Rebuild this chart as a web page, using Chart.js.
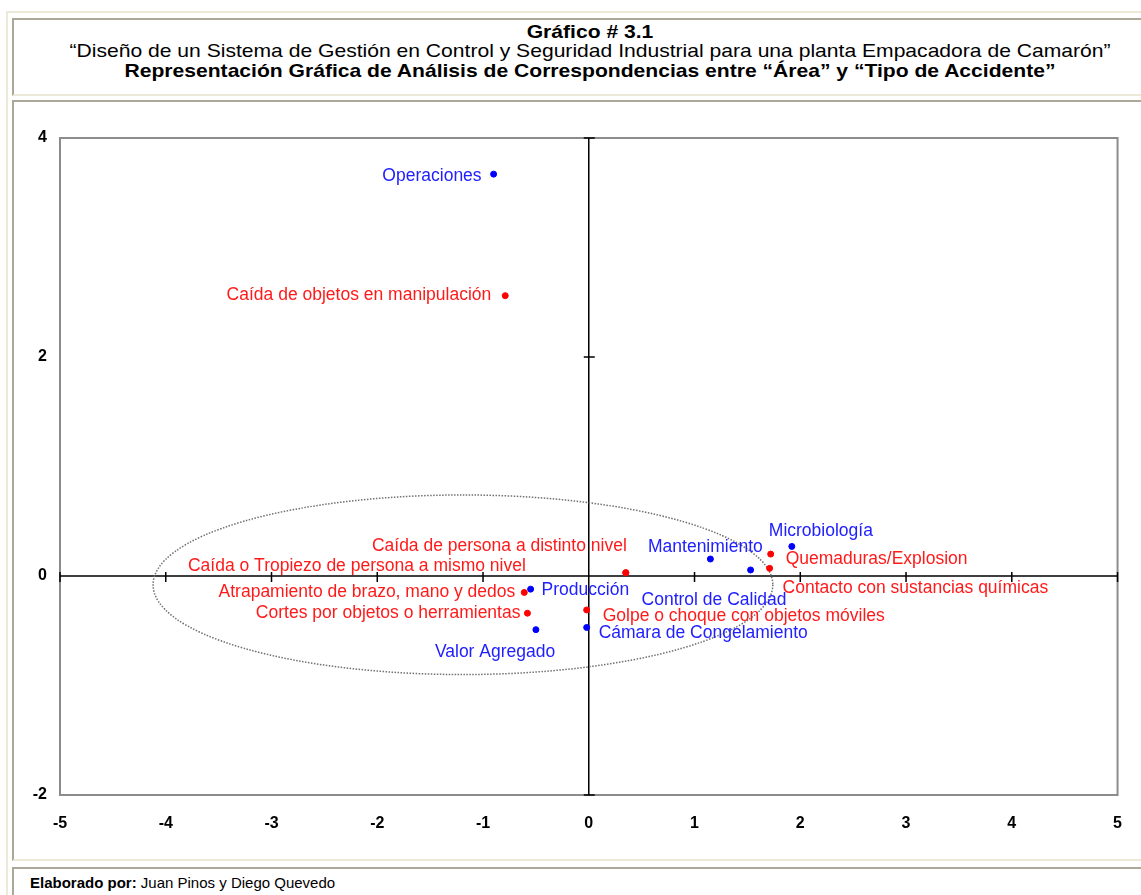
<!DOCTYPE html>
<html>
<head>
<meta charset="utf-8">
<script src="https://cdn.jsdelivr.net/npm/chart.js@4.4.1/dist/chart.umd.min.js"></script>
<style>
  body { margin: 0; background: #fff; width: 1141px; height: 895px; overflow: hidden; position: relative; font-family: "Liberation Sans", Arial, sans-serif; }
  .outer { position: absolute; left: 6px; top: 11px; width: 1200px; height: 1000px; border-left: 2px solid #ece9d8; border-top: 2px solid #ece9d8; }
  .cell { position: absolute; left: 12px; width: 1200px; background: #fff; border-top: 2px solid #aca899; border-left: 2px solid #aca899; border-bottom: 2px solid #ece9d8; box-sizing: border-box; }
  #head { top: 18px; height: 78px; }
  #head div { position: absolute; left: -14px; width: 1180px; text-align: center; color: #000; font-size: 19px; line-height: 20px; white-space: nowrap; transform: scaleX(1.11); transform-origin: 50% 0; }
  #body { top: 100px; height: 761px; }
  #foot { top: 867px; height: 60px; font-size: 15px; }
  #foot span { position: absolute; left: 16px; top: 5px; }
  canvas { position: absolute; left: 0; top: 0; }
</style>
</head>
<body>
<div class="outer"></div>
<div class="cell" id="head">
  <div style="top:2px;font-weight:bold;">Gráfico # 3.1</div>
  <div style="top:21px;">“Diseño de un Sistema de Gestión en Control y Seguridad Industrial para una planta Empacadora de Camarón”</div>
  <div style="top:41px;font-weight:bold;">Representación Gráfica de Análisis de Correspondencias entre “Área” y “Tipo de Accidente”</div>
</div>
<div class="cell" id="body"><canvas id="chart" width="1127" height="757"></canvas></div>
<div class="cell" id="foot"><span><b>Elaborado por:</b> Juan Pinos y Diego Quevedo</span></div>

<script>
// areas (azul)
const areaLabels = ["Operaciones", "Microbiología", "Mantenimiento", "Control de Calidad", "Producción", "Valor Agregado", "Cámara de Congelamiento"];
const areaX = [-0.90, 1.92, 1.15, 1.53, -0.55, -0.50, -0.02];
const areaY = [3.67, 0.27, 0.155, 0.055, -0.12, -0.49, -0.47];

// tipos de accidente (rojo)
const accLabels = ["Caída de objetos en manipulación", "Caída de persona a distinto nivel", "Caída o Tropiezo de persona a mismo nivel",
  "Quemaduras/Explosion", "Contacto con sustancias químicas", "Atrapamiento de brazo, mano y dedos",
  "Cortes por objetos o herramientas", "Golpe o choque con objetos móviles"];
const accX = [-0.79, 0.35, 0.35, 1.72, 1.71, -0.61, -0.58, -0.02];
const accY = [2.56, 0.03, 0.03, 0.20, 0.07, -0.15, -0.34, -0.31];

// ejes
const xTicks = [-5, -4, -3, -2, -1, 0, 1, 2, 3, 4, 5];
const yTicks = [-2, 0, 2, 4];

// elipse (centro, radios) en unidades de datos
const ellipseCenter = [-1.19, -0.08];
const ellipseRadius = [2.93, 0.82];

// posicion de las etiquetas: [alineacion, dx, dy] en pixeles
const areaPlace = [["right", -12, 2], ["left", -23, -15], ["center", -5, -12], ["left", -109, 30],
  ["left", 11, 1], ["left", -101, 23], ["left", 12, 6]];
const accPlace = [["right", -14, -1], ["right", 1, -27], ["right", -100, -7], ["left", 15, 5],
  ["left", 13, 20], ["right", -9, 0], ["right", -7, 0], ["left", 16, 6]];

const BLUE = "#0000ff";
const RED = "#ff0000";

const toPts = (xs, ys) => xs.map((x, i) => ({ x: x, y: ys[i] }));

// marco, ejes centrales y elipse
const decoPlugin = {
  id: "deco",
  beforeDatasetsDraw(chart) {
    const { ctx, chartArea: a, scales } = chart;
    const sx = scales.x, sy = scales.y;
    ctx.save();
    ctx.strokeStyle = "#8c8c8c";
    ctx.lineWidth = 2;
    ctx.strokeRect(a.left, a.top, a.right - a.left, a.bottom - a.top);

    const x0 = sx.getPixelForValue(0), y0 = sy.getPixelForValue(0);
    ctx.strokeStyle = "#000";
    ctx.lineWidth = 1.5;
    ctx.beginPath();
    ctx.moveTo(a.left, y0); ctx.lineTo(a.right, y0);
    ctx.moveTo(x0, a.top); ctx.lineTo(x0, a.bottom);
    xTicks.forEach(v => {
      const px = sx.getPixelForValue(v);
      ctx.moveTo(px, y0 - 4); ctx.lineTo(px, y0 + 6);
    });
    yTicks.forEach(v => {
      const py = sy.getPixelForValue(v);
      ctx.moveTo(x0 - 5, py); ctx.lineTo(x0 + 6, py);
    });
    ctx.stroke();

    // elipse punteada
    const cx = sx.getPixelForValue(ellipseCenter[0]);
    const cy = sy.getPixelForValue(ellipseCenter[1]);
    const rx = Math.abs(sx.getPixelForValue(ellipseCenter[0] + ellipseRadius[0]) - cx);
    const ry = Math.abs(sy.getPixelForValue(ellipseCenter[1] + ellipseRadius[1]) - cy);
    ctx.strokeStyle = "#707070";
    ctx.lineWidth = 1.5;
    ctx.setLineDash([1.5, 1.5]);
    ctx.beginPath();
    ctx.ellipse(cx, cy, rx, ry, 0, 0, Math.PI * 2);
    ctx.stroke();
    ctx.restore();
  },
  afterDatasetsDraw(chart) {
    const { ctx } = chart;
    ctx.save();
    ctx.font = "17.5px 'Liberation Sans', Arial, sans-serif";
    ctx.textBaseline = "middle";
    chart.data.datasets.forEach((ds, di) => {
      const meta = chart.getDatasetMeta(di);
      const place = ds.place;
      meta.data.forEach((el, i) => {
        const p = place[i];
        ctx.fillStyle = ds.textColor;
        ctx.textAlign = p[0];
        ctx.fillText(ds.names[i], el.x + p[1], el.y + p[2]);
      });
    });
    ctx.restore();
  }
};

new Chart(document.getElementById("chart"), {
  type: "scatter",
  data: {
    datasets: [
      { label: "Área", data: toPts(areaX, areaY), names: areaLabels, place: areaPlace, textColor: "#2020ff",
        backgroundColor: BLUE, borderColor: BLUE, pointRadius: 3, pointHoverRadius: 3 },
      { label: "Tipo de Accidente", data: toPts(accX, accY), names: accLabels, place: accPlace, textColor: "#ff1a1a",
        backgroundColor: RED, borderColor: RED, pointRadius: 3, pointHoverRadius: 3 }
    ]
  },
  options: {
    responsive: false,
    animation: false,
    layout: { padding: { left: 0, top: 36, right: 19, bottom: 0 } },
    plugins: { legend: { display: false }, tooltip: { enabled: false } },
    scales: {
      x: {
        min: -5, max: 5,
        afterFit: s => { s.height = 64; },
        afterBuildTicks: s => { s.ticks = xTicks.map(v => ({ value: v })); },
        grid: { display: false, drawTicks: false },
        border: { display: false },
        ticks: { padding: 19, color: "#000", font: { family: "'Liberation Sans', Arial", size: 16, weight: "bold" } }
      },
      y: {
        min: -2, max: 4,
        afterFit: s => { s.width = 46; },
        afterBuildTicks: s => { s.ticks = yTicks.map(v => ({ value: v })); },
        grid: { display: false, drawTicks: false },
        border: { display: false },
        ticks: { padding: 13, color: "#000", font: { family: "'Liberation Sans', Arial", size: 16, weight: "bold" } }
      }
    }
  },
  plugins: [decoPlugin]
});
</script>
</body>
</html>
